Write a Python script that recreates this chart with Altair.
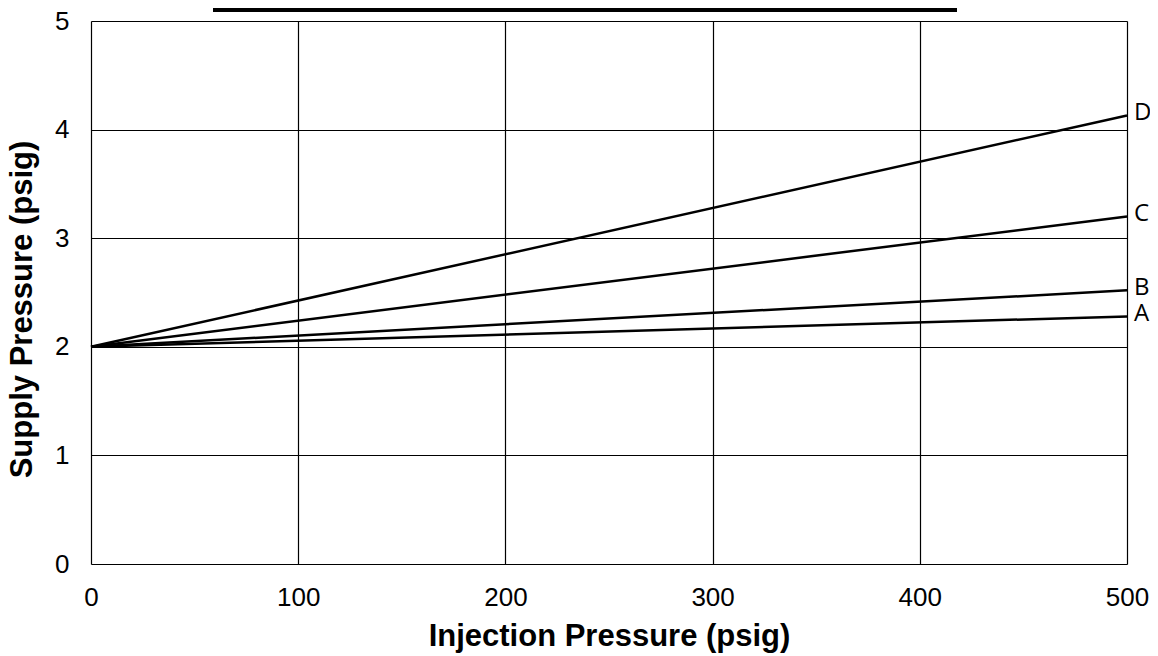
import altair as alt
import pandas as pd

series = ["A", "B", "C", "D"]
x_start = [0, 0, 0, 0]
x_end = [500, 500, 500, 500]
y_start = [2.0, 2.0, 2.0, 2.0]
y_end = [2.28, 2.52, 3.20, 4.13]

x_ticks = [0, 100, 200, 300, 400, 500]
y_ticks = [0, 1, 2, 3, 4, 5]

rows = []
for s, x0, x1, y0, y1 in zip(series, x_start, x_end, y_start, y_end):
    rows.append({"series": s, "x": x0, "y": y0})
    rows.append({"series": s, "x": x1, "y": y1})
lines_df = pd.DataFrame(rows)
labels_df = pd.DataFrame({"series": series, "x": x_end, "y": y_end})

xs = alt.Scale(domain=[0, 500], nice=False)
ys = alt.Scale(domain=[0, 5], nice=False)

xax = alt.Axis(values=x_ticks, format="d", grid=True, gridColor="black", gridOpacity=1, gridWidth=1.2,
               ticks=False, domain=False, labelFlush=False, labelFont="Liberation Sans", labelFontSize=26,
               labelColor="black", labelPadding=20, title="Injection Pressure (psig)",
               titleFont="Liberation Sans", titleFontSize=31, titleFontWeight="bold",
               titleColor="black", titleX=518, titleY=81, titleBaseline="alphabetic",
               titleAnchor="middle")
yax = alt.Axis(values=y_ticks, format="d", grid=True, gridColor="black", gridOpacity=1, gridWidth=1.2,
               ticks=False, domain=False, labelFlush=False, labelFont="Liberation Sans", labelFontSize=26,
               labelColor="black", labelPadding=22, title="Supply Pressure (psig)",
               titleFont="Liberation Sans", titleFontSize=31, titleFontWeight="bold",
               titleColor="black", titleX=-60, titleY=288, titleBaseline="alphabetic",
               titleAnchor="middle")

lines = alt.Chart(lines_df).mark_line(color="black", strokeWidth=2.5).encode(
    x=alt.X("x:Q", scale=xs, axis=xax),
    y=alt.Y("y:Q", scale=ys, axis=yax),
    detail="series:N",
)

labels = alt.Chart(labels_df).mark_text(
    align="left", baseline="middle", dx=7, dy=-2, font="Open Sans", fontSize=24, color="black"
).encode(x=alt.X("x:Q", scale=xs), y=alt.Y("y:Q", scale=ys), text="series:N")

# decorative cut-off legend box at the top
shadow = alt.Chart(pd.DataFrame({"a": [0]})).mark_rect(color="black", clip=False).encode(
    x=alt.value(122), x2=alt.value(866), y=alt.value(-31), y2=alt.value(-9))
box = alt.Chart(pd.DataFrame({"a": [0]})).mark_rect(
    fill="white", stroke="black", strokeWidth=1.5, clip=False).encode(
    x=alt.value(118), x2=alt.value(862), y=alt.value(-31), y2=alt.value(-18))

chart = alt.layer(shadow, box, lines, labels).properties(
    width=1036, height=543,
    autosize=alt.AutoSizeParams(type="none"),
    padding={"left": 83, "top": 13, "right": 23, "bottom": 92},
).configure_view(stroke="black", strokeWidth=1.5).configure(background="white")

chart.save("out.html", embed_options={"renderer": "svg", "actions": False})
